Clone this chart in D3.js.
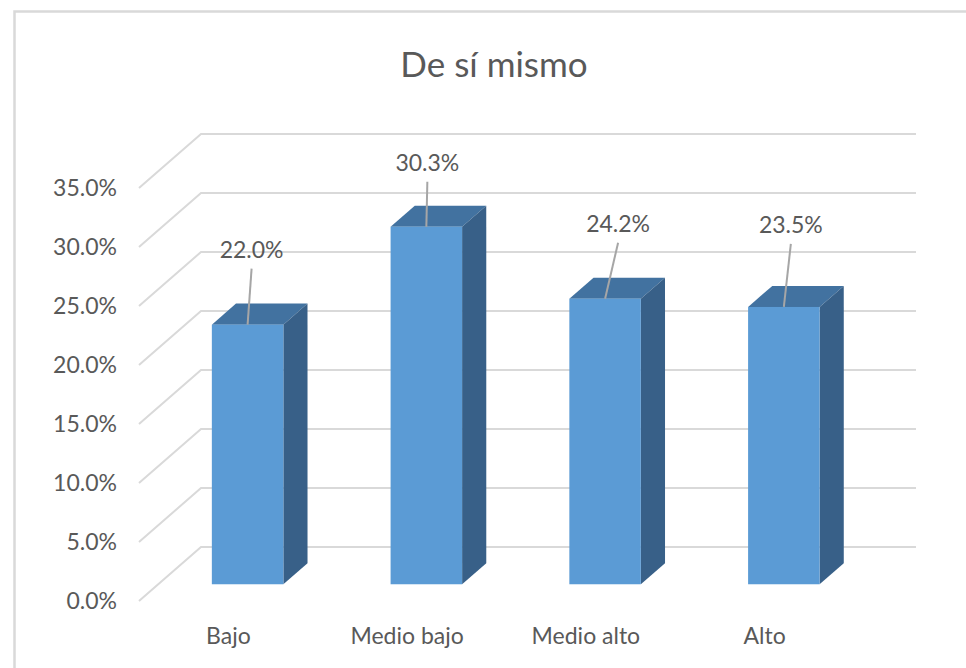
<!DOCTYPE html>
<html>
<head>
<meta charset="utf-8">
<script src="https://cdn.jsdelivr.net/npm/d3@7"></script>
<style>
  html, body { margin: 0; padding: 0; background: #fff; }
  text { font-family: Lato, "Open Sans", sans-serif; fill: #595959; }
</style>
</head>
<body>
<div id="stage"></div>
<script>
// chart data
const categories = ['Bajo', 'Medio bajo', 'Medio alto', 'Alto'];
const values = [22.0, 30.3, 24.2, 23.5];
const ticks = [0, 5, 10, 15, 20, 25, 30, 35];
const title = 'De sí mismo';

// hand-moved data labels (offset from top-front centre of each bar)
const labelNudge = [[4, -67], [1, -56], [13, -67], [7, -74]];

const width = 966;
const height = 668;

const svg = d3.select('#stage')
                .append('svg')
                .attr('width', width)
                .attr('height', height);

// chart frame
svg.append('rect')
    .attr('x', 14.5)
    .attr('y', 11.5)
    .attr('width', 1000)
    .attr('height', 800)
    .attr('fill', 'none')
    .attr('stroke', '#d9d9d9')
    .attr('stroke-width', 2.5);

svg.append('text')
    .attr('x', 494)
    .attr('y', 77)
    .attr('text-anchor', 'middle')
    .attr('font-size', 35)
    .text(title);

// 3d depth of the plot box and where bars sit inside it
const depth = {dx: 62, dy: -54};
const barFront = 0.31, barBack = 0.70;

const y = d3.scaleLinear().domain([0, 35]).range([601, 188]);
const x = d3.scaleBand()
              .domain(categories)
              .range([139, 854])
              .paddingInner(0.6)
              .paddingOuter(0.3);

// side wall diagonals + back wall gridlines
const grid = svg.append('g')
                 .attr('stroke', '#d9d9d9')
                 .attr('stroke-width', 2)
                 .attr('fill', 'none');

grid.selectAll('path')
    .data(ticks)
    .join('path')
    .attr('d', d => {
        const x0 = 139, y0 = y(d);
        return `M${x0},${y0}L${x0 + depth.dx},${y0 + depth.dy}H${x.range()[1] + depth.dx}`;
    });

// y axis labels
svg.append('g')
    .selectAll('text')
    .data(ticks)
    .join('text')
    .attr('x', 117)
    .attr('y', d => y(d))
    .attr('dy', '0.35em')
    .attr('text-anchor', 'end')
    .attr('font-size', 23)
    .text(d => d3.format('.1f')(d) + '%');

// category labels
svg.append('g')
    .selectAll('text')
    .data(categories)
    .join('text')
    .attr('x', d => x(d) + x.bandwidth() / 2)
    .attr('y', 644)
    .attr('text-anchor', 'middle')
    .attr('font-size', 23)
    .text(d => d);

// bars
const fx = depth.dx * barFront, fy = depth.dy * barFront;
const bdx = depth.dx * (barBack - barFront), bdy = depth.dy * (barBack - barFront);
const bw = x.bandwidth();

const bar = svg.append('g')
                .selectAll('g')
                .data(categories.map((c, i) => ({c, v: values[i], i})))
                .join('g');

bar.append('path')   // top
    .attr('fill', '#4272a0')
    .attr('d', d => {
        const x0 = x(d.c) + fx, yt = y(d.v) + fy;
        return `M${x0},${yt}l${bdx},${bdy}h${bw}l${-bdx},${-bdy}Z`;
    });

bar.append('path')   // side
    .attr('fill', '#386088')
    .attr('d', d => {
        const x1 = x(d.c) + fx + bw, yt = y(d.v) + fy, yb = y(0) + fy;
        return `M${x1},${yt}l${bdx},${bdy}V${yb + bdy}l${-bdx},${-bdy}Z`;
    });

bar.append('rect')   // front
    .attr('fill', '#5b9bd5')
    .attr('x', d => x(d.c) + fx)
    .attr('y', d => y(d.v) + fy)
    .attr('width', bw)
    .attr('height', d => y(0) - y(d.v));

// data labels with leader lines
bar.append('line')
    .attr('stroke', '#a6a6a6')
    .attr('stroke-width', 2)
    .attr('x1', d => x(d.c) + fx + bw / 2)
    .attr('y1', d => y(d.v) + fy)
    .attr('x2', d => x(d.c) + fx + bw / 2 + labelNudge[d.i][0])
    .attr('y2', d => y(d.v) + fy + labelNudge[d.i][1] + 11);

bar.append('text')
    .attr('x', d => x(d.c) + fx + bw / 2 + labelNudge[d.i][0])
    .attr('y', d => y(d.v) + fy + labelNudge[d.i][1])
    .attr('text-anchor', 'middle')
    .attr('font-size', 23)
    .text(d => d3.format('.1f')(d.v) + '%');
</script>
</body>
</html>
